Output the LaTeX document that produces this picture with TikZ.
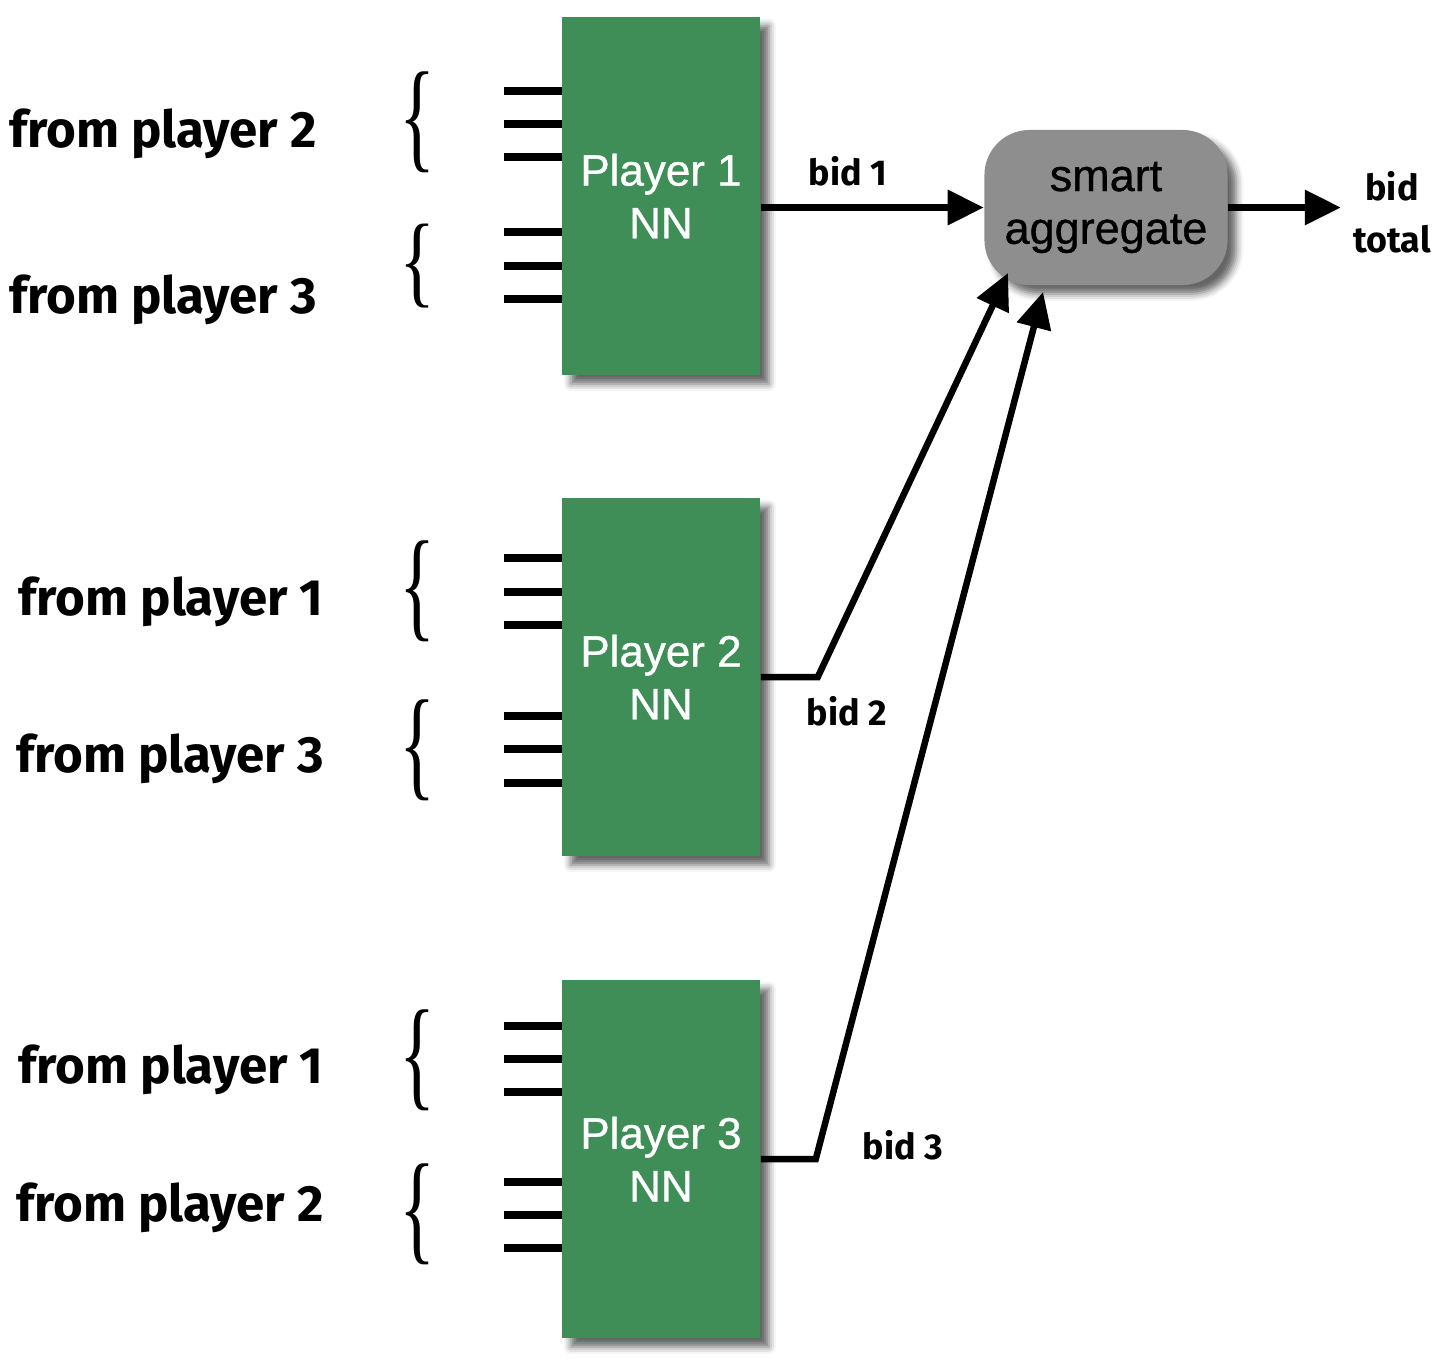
\documentclass[tikz,border=0pt]{standalone}
\usepackage{fontspec}
\setmainfont{Liberation Sans}
\newfontfamily\nnfont[FakeBold=0.8]{Liberation Sans}
\newfontfamily\handfont{Fira Sans}
\newfontfamily\bracefont{Liberation Serif}
\usetikzlibrary{arrows.meta, shadows.blur, positioning}
\definecolor{nngreen}{RGB}{63,142,87}
\definecolor{agggray}{RGB}{142,142,142}
\tikzstyle{player} = [rectangle, fill=nngreen, text=white, minimum width=1.98cm, minimum height=3.58cm, align=center, font=\nnfont\fontsize{12.5}{15}\selectfont, blur shadow={shadow xshift=2.5pt, shadow yshift=-2.5pt, shadow blur radius=2pt, shadow opacity=60}]
\tikzstyle{aggregate} = [rectangle, rounded corners=0.45cm, fill=agggray, text=black, minimum width=2.43cm, minimum height=1.55cm, align=center, font=\nnfont\fontsize{12.8}{15}\selectfont, blur shadow={shadow xshift=2.5pt, shadow yshift=-2.5pt, shadow blur radius=2pt, shadow opacity=60}]
\tikzstyle{from} = [font=\handfont\bfseries\fontsize{14.5}{18}\selectfont]
\tikzstyle{bid} = [font=\handfont\bfseries\fontsize{10.2}{14.8}\selectfont, align=center]
\tikzstyle{curly} = [inner sep=0pt]
\tikzstyle{stub} = [line width=0.075cm]
\tikzstyle{myarrow} = [line width=0.065cm, -{Triangle[length=0.36cm, width=0.34cm]}]
\newcommand{\curlyof}[1]{\resizebox*{0.36cm}{#1}{\bracefont\{}}

\begin{document}
\begin{tikzpicture}[x=0.01cm, y=-0.01cm]
\useasboundingbox (0,0) rectangle (1434,1366);
\node (nn1)[player] at (661,196) {Player 1\\NN};
\node (nn2)[player] at (661,677) {Player 2\\NN};
\node (nn3)[player] at (661,1159) {Player 3\\NN};
\node (agg)[aggregate] at (1106,207.5) {smart\\aggregate};

\node (from12)[from] at (163,134) {from player 2};
\node (from13)[from] at (163,300) {from player 3};
\node (from21)[from] at (171,602) {from player 1};
\node (from23)[from] at (170,759) {from player 3};
\node (from31)[from] at (171,1070) {from player 1};
\node (from32)[from] at (170,1208) {from player 2};

\node (brace12)[curly] at (418,122) {\curlyof{1.01cm}};
\node (brace13)[curly] at (418,266) {\curlyof{0.84cm}};
\node (brace21)[curly] at (418,591) {\curlyof{1.01cm}};
\node (brace23)[curly] at (418,750) {\curlyof{1.01cm}};
\node (brace31)[curly] at (418,1060) {\curlyof{1.01cm}};
\node (brace32)[curly] at (418,1214) {\curlyof{1.01cm}};

\foreach \y in {91,124,157,232,266,299,558,592,625,716,749,783,1026,1059,1092,1182,1215,1248}
  \draw [stub] (504,\y) -- (562,\y);

\node (bid1)[bid] at (848,171) {bid 1};
\node (bid2)[bid] at (847,711) {bid 2};
\node (bid3)[bid] at (903,1145) {bid 3};
\node (total)[bid] at (1392,212) {bid\\total};
\coordinate (in2) at (1008,273);
\coordinate (in3) at (1043,292);

\draw [myarrow] (nn1.east |- agg.west) -- (agg.west);
\draw [myarrow] (nn2.east) -- ++(57,0) -- (in2);
\draw [myarrow] (nn3.east) -- ++(55,0) -- (in3);
\draw [myarrow] (agg.east) -- (agg.east -| total.west);
\end{tikzpicture}
\end{document}
